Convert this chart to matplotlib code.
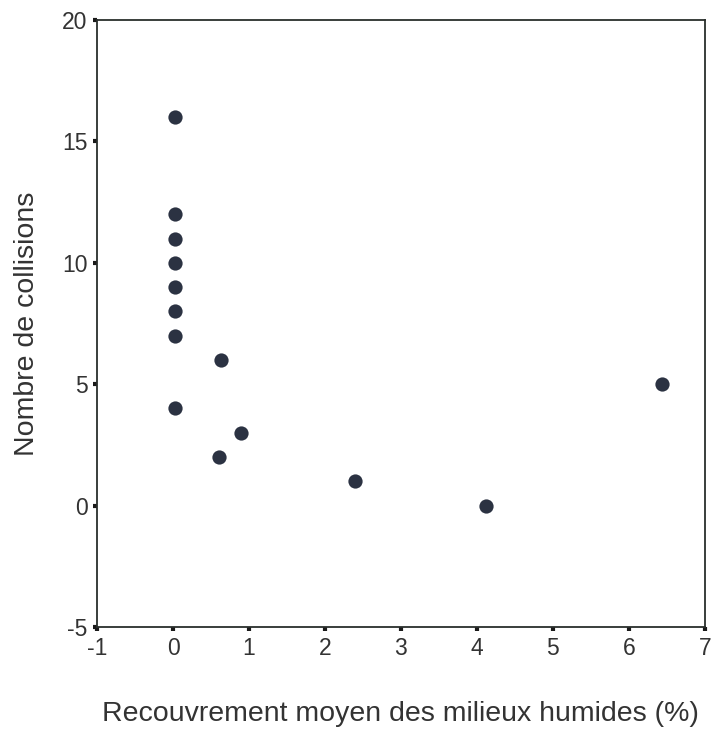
import matplotlib.pyplot as plt

# cover (%) vs number of collisions
recouvrement = [0.02, 0.02, 0.02, 0.02, 0.02, 0.02, 0.02, 0.02,
                0.63, 0.60, 0.90, 2.40, 4.12, 6.44]
collisions = [16, 12, 11, 10, 9, 8, 7, 4,
              6, 2, 3, 1, 0, 5]

x_ticks = [-1, 0, 1, 2, 3, 4, 5, 6, 7]
y_ticks = [-5, 0, 5, 10, 15, 20]

plt.rcParams['font.family'] = ['Liberation Sans', 'DejaVu Sans']
plt.rcParams['axes.unicode_minus'] = False

fig = plt.figure(figsize=(7.14, 7.32), dpi=100)
ax = fig.add_axes([0.136, 0.1434, 0.851, 0.8293])

ax.scatter(recouvrement, collisions, s=105, color='#2b3242', zorder=3, linewidths=0)

ax.set_xlim(-1, 7)
ax.set_ylim(-5, 20)
ax.set_xticks(x_ticks)
ax.set_yticks(y_ticks)

for sp in ax.spines.values():
    sp.set_color('#2a2f2c')
    sp.set_linewidth(1.3)

ax.tick_params(direction='out', length=3, width=3, color='#1a1a1a',
               labelsize=16.5, labelcolor='#333333', pad=4)

ax.set_xlabel('Recouvrement moyen des milieux humides (%)', fontsize=20.5,
              color='#333333', labelpad=30)
ax.set_ylabel('Nombre de collisions', fontsize=20.5, color='#333333', labelpad=16)

fig.savefig('out.png', dpi=100)
